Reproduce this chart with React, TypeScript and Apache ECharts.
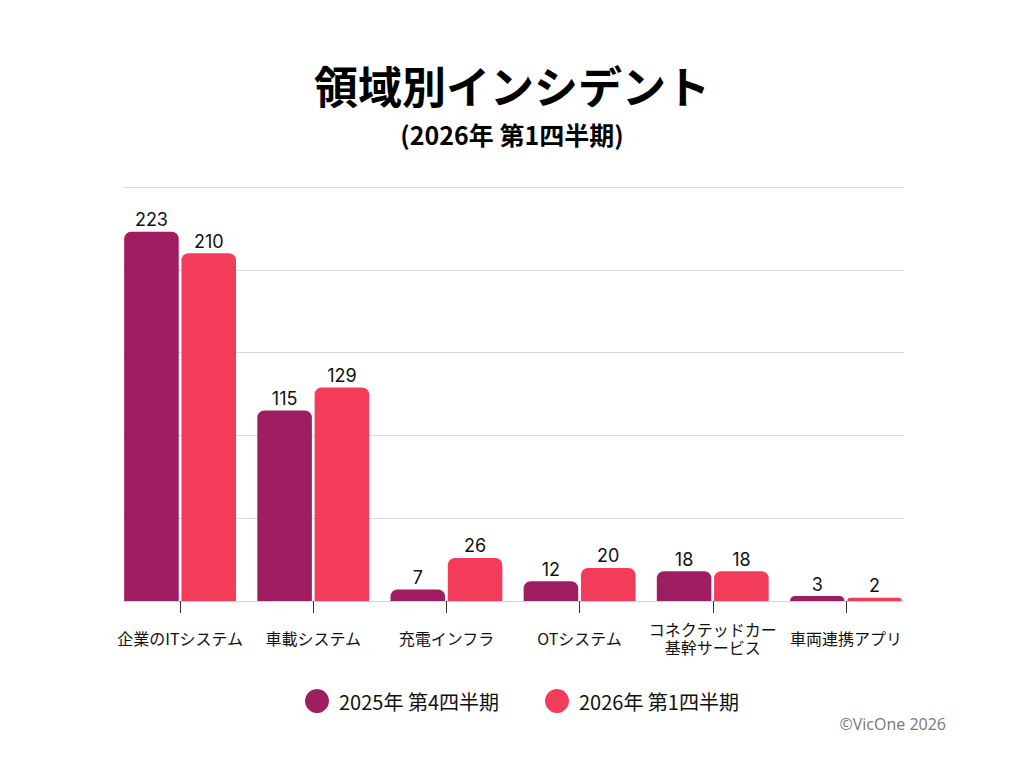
import React, { useEffect, useRef } from "react";
import * as echarts from "echarts";

const categories = [
  "企業のITシステム",
  "車載システム",
  "充電インフラ",
  "OTシステム",
  "コネクテッドカー\n基幹サービス",
  "車両連携アプリ",
];
const seriesNames = ["2025年 第4四半期", "2026年 第1四半期"];
const q4_2025 = [223, 115, 7, 12, 18, 3];
const q1_2026 = [210, 129, 26, 20, 18, 2];
const valueTicks = { min: 0, max: 250, interval: 50 };

const PURPLE = "#9E1E61";
const RED = "#F33C59";
const CJK = "'Noto Sans CJK JP', 'Noto Sans', sans-serif";

export default function App() {
  const ref = useRef<HTMLDivElement>(null);

  useEffect(() => {
    document.body.style.margin = "0";
    const chart = echarts.init(ref.current!, null, { renderer: "svg" });
    const barLabel = {
      show: true,
      position: "top" as const,
      distance: 3,
      color: "#111",
      fontSize: 18,
      fontFamily: "Inter, sans-serif",
    };
    chart.setOption({
      animation: false,
      backgroundColor: "#fff",
      title: [
        {
          text: "領域別インシデント",
          left: "center",
          top: 58,
          textStyle: {
            fontFamily: CJK,
            fontWeight: "bold",
            fontSize: 44,
            lineHeight: 44,
            color: "#000",
          },
        },
        {
          text: "(2026年 第1四半期)",
          left: "center",
          top: 116,
          textStyle: {
            fontFamily: CJK,
            fontWeight: "bold",
            fontSize: 25,
            lineHeight: 26,
            color: "#000",
          },
        },
      ],
      legend: {
        bottom: 50,
        left: 300,
        icon: "circle",
        itemWidth: 24,
        itemHeight: 24,
        itemGap: 46,
        textStyle: {
          fontFamily: CJK,
          fontSize: 20,
          color: "#111",
          padding: [0, 0, 0, 5],
        },
        data: seriesNames,
      },
      graphic: [
        {
          type: "text",
          right: 78,
          top: 716,
          style: {
            text: "©VicOne 2026",
            fontFamily: "'Open Sans', sans-serif",
            fontSize: 16,
            fill: "#777",
          },
        },
      ],
      grid: [
        { left: 113.5, right: 111.5, top: 187, bottom: 167 },
        { left: 124, right: 120, top: 187, bottom: 167 },
      ],
      xAxis: [
        {
          type: "category",
          gridIndex: 0,
          data: categories,
          axisLine: { show: false },
          axisTick: {
            show: true,
            alignWithLabel: true,
            length: 12,
            lineStyle: { color: "#333" },
          },
          axisLabel: {
            interval: 0,
            margin: 37,
            verticalAlign: "middle",
            fontFamily: CJK,
            fontSize: 16,
            color: "#111",
            lineHeight: 18,
          },
        },
        {
          type: "category",
          gridIndex: 1,
          data: categories,
          axisLine: { show: true, lineStyle: { color: "#d6d6d6", width: 1 } },
          axisTick: { show: false },
          axisLabel: { show: false },
        },
      ],
      yAxis: [
        {
          type: "value",
          gridIndex: 0,
          ...valueTicks,
          splitLine: { show: false },
          axisLabel: { show: false },
          axisLine: { show: false },
          axisTick: { show: false },
        },
        {
          type: "value",
          gridIndex: 1,
          ...valueTicks,
          splitLine: { show: true, lineStyle: { color: "#dcdcdc", width: 1 } },
          axisLabel: { show: false },
          axisLine: { show: false },
          axisTick: { show: false },
        },
      ],
      series: [
        {
          name: seriesNames[0],
          type: "bar",
          xAxisIndex: 0,
          yAxisIndex: 0,
          data: q4_2025,
          barCategoryGap: "16%",
          barGap: "5%",
          itemStyle: { color: PURPLE, borderRadius: [7, 7, 0, 0] },
          label: barLabel,
          z: 3,
        },
        {
          name: seriesNames[1],
          type: "bar",
          xAxisIndex: 0,
          yAxisIndex: 0,
          data: q1_2026,
          barCategoryGap: "16%",
          barGap: "5%",
          itemStyle: { color: RED, borderRadius: [7, 7, 0, 0] },
          label: barLabel,
          z: 3,
        },
      ],
    });
    return () => chart.dispose();
  }, []);

  return <div ref={ref} style={{ width: 1024, height: 768 }} />;
}
